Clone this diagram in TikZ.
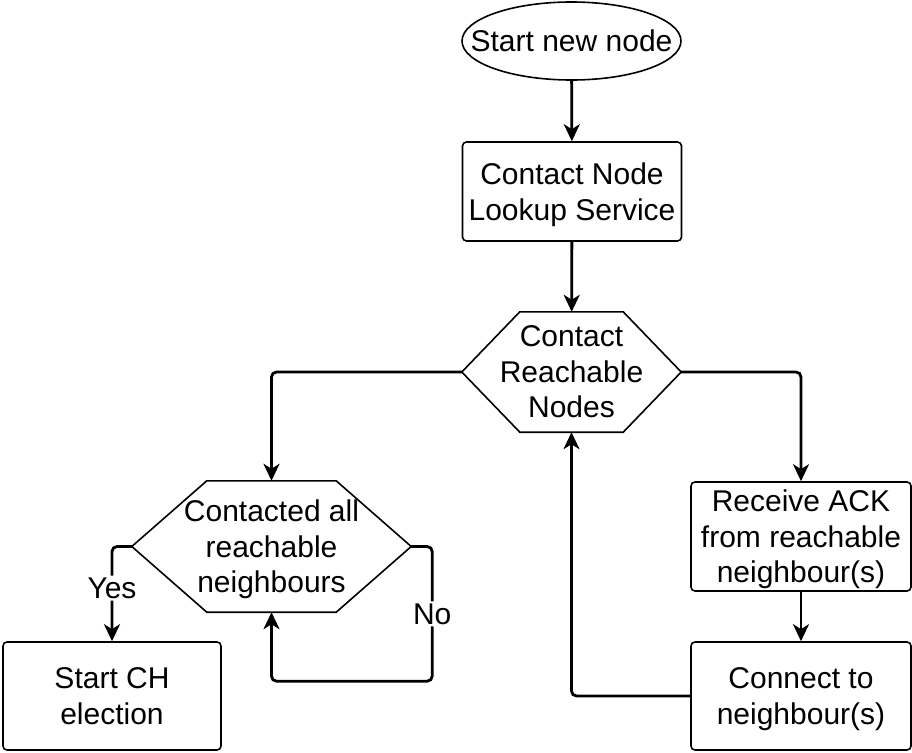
\documentclass[tikz,border=0pt]{standalone}
\usepackage{fontspec}
\setmainfont{Liberation Sans}
\usetikzlibrary{shapes.geometric,arrows.meta}

\begin{document}
\begin{tikzpicture}[x=1pt,y=-1pt,
	every node/.style={font=\fontsize{30}{35.5}\selectfont,align=center,inner sep=0pt},
	startnode/.style={draw,ellipse,line width=1.6pt,minimum width=219pt,minimum height=78pt},
	box/.style={draw,line width=1.6pt,rounded corners=4pt,minimum width=219pt,text depth=0pt},
	hexa/.style={minimum width=#1,text depth=0pt},
	hexline/.style={line width=1.6pt},
	conn/.style={line width=2.8pt,rounded corners=5pt,-{Stealth[length=17pt,width=16pt,inset=5pt]}},
	lbl/.style={fill=white,inner sep=2pt}]
	\useasboundingbox (0,0) rectangle (912,752);
	% nodes
	\node[startnode] (start) at (571.5,41) {\makebox[0pt]{Start new node}};
	\node[box,minimum height=99pt] (lookup) at (572,191.5) {Contact Node\\Lookup Service};
	\node[hexa=219pt,minimum height=120pt] (reach) at (571.5,372) {Contact\\Reachable\\Nodes};
	\node[hexa=279pt,minimum height=131pt] (contacted) at (271.5,546.5) {Contacted all\\reachable\\neighbours};
	\node[box,minimum height=108pt,minimum width=218pt] (ch) at (112,696) {Start CH\\election};
	\node[box,minimum height=109pt,minimum width=220pt] (ack) at (801,536.5) {Receive ACK\\from reachable\\neighbour(s)};
	\node[box,minimum height=108pt,minimum width=220pt] (connect) at (801,696) {Connect to\\neighbour(s)};
	% hexagon outlines
	\draw[hexline] ([xshift=58pt]reach.north west) -- ([xshift=-58pt]reach.north east) -- (reach.east)
		-- ([xshift=-58pt]reach.south east) -- ([xshift=58pt]reach.south west) -- (reach.west) -- cycle;
	\draw[hexline] ([xshift=75pt]contacted.north west) -- ([xshift=-75pt]contacted.north east) -- (contacted.east)
		-- ([xshift=-75pt]contacted.south east) -- ([xshift=75pt]contacted.south west) -- (contacted.west) -- cycle;
	% connectors
	\draw[conn] (start) -- (lookup);
	\draw[conn] (lookup) -- (reach);
	\draw[conn] (reach.west) -| (contacted.north);
	\draw[conn] (reach.east) -| (ack.north);
	\draw[conn] (contacted.west) -| node[lbl,pos=0.72] {Yes} (ch.north);
	\draw[conn] (contacted.east) -- ++(21,0) |- node[lbl,pos=0.25] {No} ([yshift=-69pt]contacted.south) -- (contacted.south);
	\draw[conn] (ack) -- (connect);
	\draw[conn] (connect.west) -| (reach.south);
\end{tikzpicture}
\end{document}
